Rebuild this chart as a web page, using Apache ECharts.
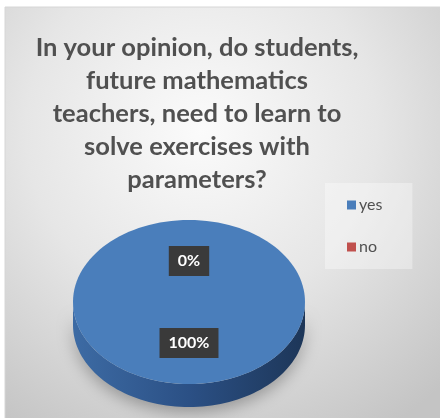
<!DOCTYPE html>
<html>
<head>
<meta charset="utf-8">
<script src="https://cdn.jsdelivr.net/npm/echarts@6/dist/echarts.min.js"></script>
<style>
html,body{margin:0;padding:0;background:#fff;}
#chart{width:440px;height:418px;}
</style>
</head>
<body>
<div id="chart"></div>
<script>
var titleText = 'In your opinion, do students,\nfuture mathematics\nteachers, need to learn to\nsolve exercises with\nparameters?';
var categories = ['yes', 'no'];
var values = [100, 0];
var colors = ['#4a7ebb', '#c0504d'];

var chart = echarts.init(document.getElementById('chart'));

var CX = 189, CY = 302, RX = 116, RY = 82, DEPTH = 23;
var total = values.reduce(function (a, b) { return a + b; }, 0);

function pt(theta, dy) {
  return [CX + RX * Math.sin(theta), CY - RY * Math.cos(theta) + (dy || 0)];
}

function renderSlice(params, api) {
  var v = api.value(0);
  var idx = api.value(1);
  var before = 0;
  for (var k = 0; k < idx; k++) before += values[k];
  var a0 = before / total * Math.PI * 2;
  var a1 = a0 + v / total * Math.PI * 2;
  var children = [];
  var sweep = a1 - a0;
  var color = colors[idx];
  var s = Math.max(a0, Math.PI / 2), e = Math.min(a1, Math.PI * 1.5);
  if (e > s) {
    var pts = [], n = 80, j;
    for (j = 0; j <= n; j++) pts.push(pt(s + (e - s) * j / n, 0));
    for (j = n; j >= 0; j--) pts.push(pt(s + (e - s) * j / n, DEPTH));
    children.push({
      type: 'polygon', z2: 0,
      shape: { points: pts },
      style: {
        fill: new echarts.graphic.LinearGradient(0, 0, 1, 0, [
          { offset: 0, color: '#3d6ba4' },
          { offset: 0.5, color: '#2b5085' },
          { offset: 1, color: '#1d3658' }
        ]),
        shadowBlur: 16, shadowColor: 'rgba(0,0,0,0.3)', shadowOffsetY: 5
      }
    });
  }
  if (sweep >= Math.PI * 2 - 1e-6) {
    children.push({
      type: 'ellipse', z2: 1,
      shape: { cx: CX, cy: CY, rx: RX, ry: RY },
      style: { fill: color }
    });
  } else if (sweep > 0) {
    var tp = [[CX, CY]], m = 80;
    for (var q = 0; q <= m; q++) tp.push(pt(a0 + sweep * q / m, 0));
    children.push({
      type: 'polygon', z2: 1,
      shape: { points: tp },
      style: { fill: color }
    });
  }
  var mid = (a0 + a1) / 2;
  var lx = CX + RX * 0.5 * Math.sin(mid);
  var ly = CY - RY * 0.5 * Math.cos(mid);
  children.push({
    type: 'text', z2: 10, x: lx, y: ly,
    style: {
      text: Math.round(v / total * 100) + '%',
      fill: '#ffffff',
      font: 'bold 16px Lato, "Liberation Sans", Arial, sans-serif',
      align: 'center', verticalAlign: 'middle',
      backgroundColor: '#3a3a3a',
      padding: [7, 9, 7, 9],
      boxShadowBlur: 4, boxShadowColor: 'rgba(0,0,0,0.4)', boxShadowOffsetX: 1, boxShadowOffsetY: 2
    }
  });
  return { type: 'group', children: children };
}

var series = categories.map(function (name, i) {
  return {
    type: 'custom',
    name: name,
    coordinateSystem: 'none',
    itemStyle: { color: colors[i] },
    data: [[values[i], i]],
    renderItem: renderSlice
  };
});

chart.setOption({
  animation: false,
  graphic: [{
    type: 'rect', z: -10, silent: true,
    shape: { x: 5, y: 7, width: 436, height: 412 },
    style: {
      fill: new echarts.graphic.RadialGradient(0.45, 0.3, 0.85, [
        { offset: 0, color: '#fbfbfb' },
        { offset: 0.5, color: '#e6e6e6' },
        { offset: 1, color: '#c4c4c4' }
      ]),
      stroke: '#d6d6d6', lineWidth: 1
    }
  }],
  title: {
    text: titleText,
    left: 192, top: 26, textAlign: 'center',
    textStyle: {
      color: '#505050', fontWeight: 'bold',
      fontFamily: 'Lato, "Liberation Sans", sans-serif',
      fontSize: 25.5, lineHeight: 33
    }
  },
  legend: {
    orient: 'vertical',
    left: 325, top: 183,
    width: 85, height: 84,
    padding: [14, 30, 14, 22],
    backgroundColor: 'rgba(255,255,255,0.35)',
    icon: 'rect', itemWidth: 9, itemHeight: 9, itemGap: 26,
    textStyle: { color: '#505050', fontSize: 16, fontFamily: 'Lato, "Liberation Sans", sans-serif', padding: [0,0,0,-2] },
    data: categories
  },
  series: series
});
</script>
</body>
</html>
